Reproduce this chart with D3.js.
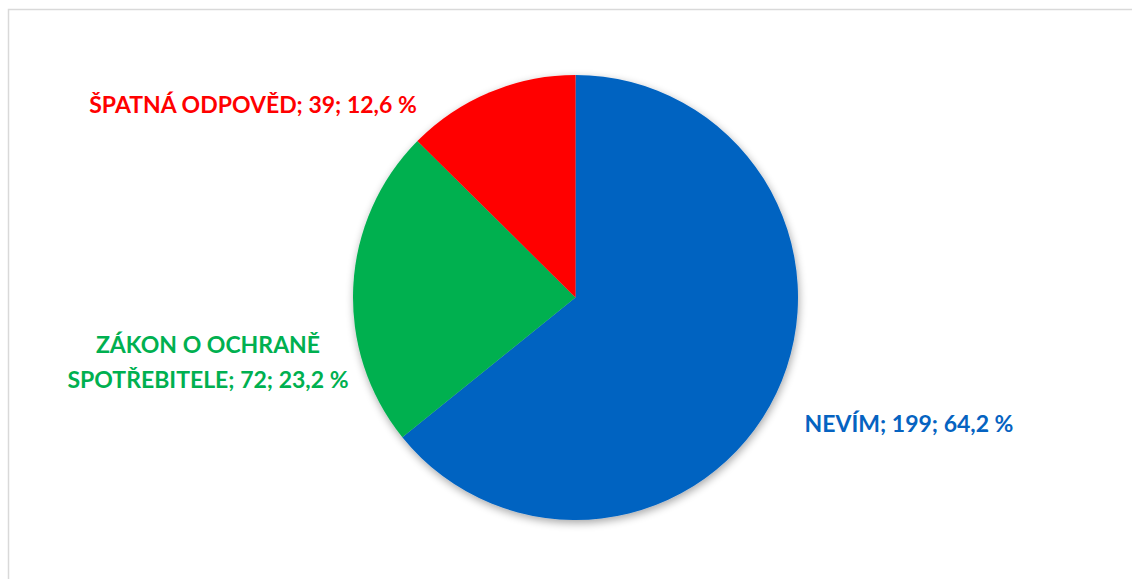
<!DOCTYPE html>
<html>
<head>
<meta charset="utf-8">
<script src="https://cdn.jsdelivr.net/npm/d3@7"></script>
<style>
  html, body { margin: 0; padding: 0; background: #fff; }
  svg { display: block; }
  .lbl { font-family: Lato, "Open Sans", sans-serif; font-weight: 700; font-size: 23px; }
</style>
</head>
<body>
<svg id="chart" width="1132" height="579"></svg>
<script>
// Odpovědi respondentů
const categories = ["NEVÍM", "ZÁKON O OCHRANĚ SPOTŘEBITELE", "ŠPATNÁ ODPOVĚD"];
const counts = [199, 72, 39];
const percents = ["64,2", "23,2", "12,6"];
const colors = ["#0563C1", "#00B050", "#FF0000"];

const W = 1132, H = 579;
const svg = d3.select("#chart");

// chart frame
svg.append("rect")
  .attr("x", 8.5).attr("y", 9.5)
  .attr("width", W + 10).attr("height", H + 10)
  .attr("fill", "#fff").attr("stroke", "#d9d9d9").attr("stroke-width", 1.5);

// soft shadow under the pie
const defs = svg.append("defs");
const f = defs.append("filter").attr("id", "shadow")
  .attr("x", "-20%").attr("y", "-20%").attr("width", "140%").attr("height", "140%");
f.append("feGaussianBlur").attr("in", "SourceAlpha").attr("stdDeviation", 4).attr("result", "b");
f.append("feOffset").attr("in", "b").attr("dx", 1).attr("dy", 3).attr("result", "o");
f.append("feComponentTransfer").attr("in", "o").attr("result", "s")
  .append("feFuncA").attr("type", "linear").attr("slope", 0.35);
const m = f.append("feMerge");
m.append("feMergeNode").attr("in", "s");
m.append("feMergeNode").attr("in", "SourceGraphic");

const cx = 575.5, cy = 297.5, r = 222.5;

const data = categories.map((c, i) => ({ name: c, value: counts[i], pct: percents[i], color: colors[i] }));
const pie = d3.pie().value(d => d.value).sort(null);
const arc = d3.arc().innerRadius(0).outerRadius(r);

const g = svg.append("g").attr("transform", `translate(${cx},${cy})`).attr("filter", "url(#shadow)");
g.selectAll("path").data(pie(data)).join("path")
  .attr("d", arc)
  .attr("fill", d => d.data.color);

// data labels: category; count; percent
const labelPos = [
  { x: 909, lines: [0], y: [432] },
  { x: 208, lines: [0, 1], y: [353, 388] },
  { x: 253, lines: [0], y: [113] }
];
const labelLines = [
  [`${categories[0]}; ${counts[0]}; ${percents[0]} %`],
  ["ZÁKON O OCHRANĚ", `SPOTŘEBITELE; ${counts[1]}; ${percents[1]} %`],
  [`${categories[2]}; ${counts[2]}; ${percents[2]} %`]
];
labelLines.forEach((lines, i) => {
  const t = svg.append("text").attr("class", "lbl")
    .attr("fill", colors[i]).attr("text-anchor", "middle");
  lines.forEach((ln, j) => {
    t.append("tspan").attr("x", labelPos[i].x).attr("y", labelPos[i].y[j]).text(ln);
  });
});
</script>
</body>
</html>
